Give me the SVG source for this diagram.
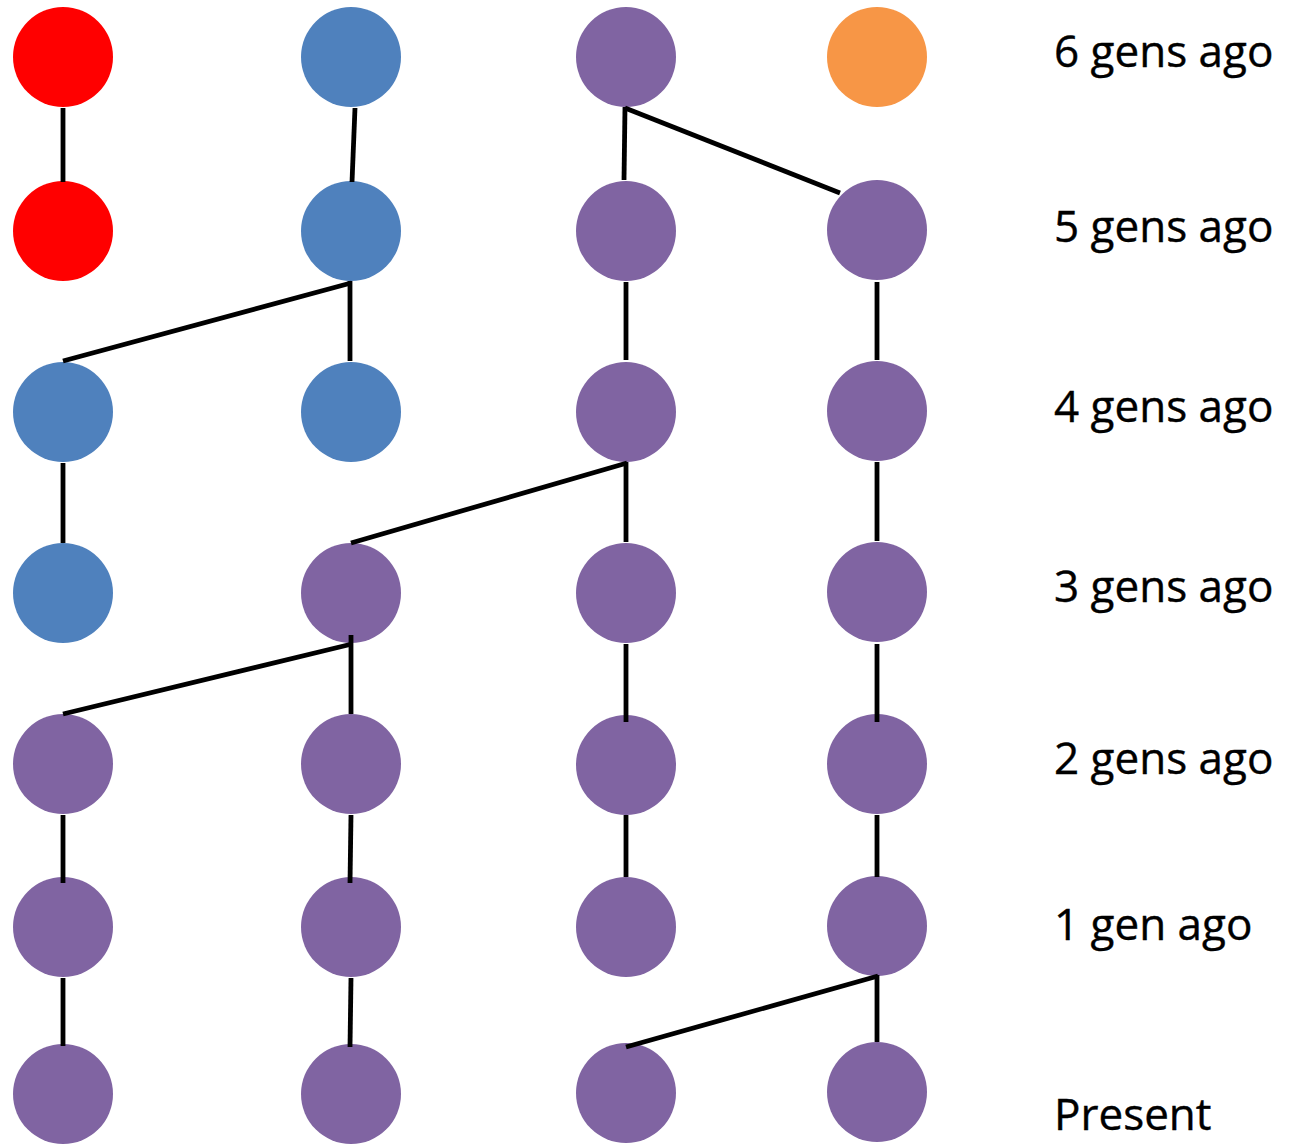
<svg xmlns="http://www.w3.org/2000/svg" width="1302" height="1146" viewBox="0 0 1302 1146">
<style>
.red{fill:#FF0000}.blue{fill:#4F81BD}.pur{fill:#8064A2}.org{fill:#F79646}
.lbl{font-family:"Open Sans","Liberation Sans",sans-serif;font-size:44px;fill:#000;stroke:#000;stroke-width:0.4}
#connectors line{stroke:#000;stroke-width:4.8;fill:none}
</style>
<rect width="1302" height="1146" fill="#fff"/>
<g id="nodes">
<g id="n0_0"><circle class="red" cx="63" cy="57" r="50"/></g>
<g id="n0_1"><circle class="blue" cx="351" cy="57" r="50"/></g>
<g id="n0_2"><circle class="pur" cx="626" cy="57" r="50"/></g>
<g id="n0_3"><circle class="org" cx="877" cy="57" r="50"/></g>
<g id="n1_0"><circle class="red" cx="63" cy="231" r="50"/></g>
<g id="n1_1"><circle class="blue" cx="351" cy="231" r="50"/></g>
<g id="n1_2"><circle class="pur" cx="626" cy="231" r="50"/></g>
<g id="n1_3"><circle class="pur" cx="877" cy="230" r="50"/></g>
<g id="n2_0"><circle class="blue" cx="63" cy="412" r="50"/></g>
<g id="n2_1"><circle class="blue" cx="351" cy="412" r="50"/></g>
<g id="n2_2"><circle class="pur" cx="626" cy="412" r="50"/></g>
<g id="n2_3"><circle class="pur" cx="877" cy="411" r="50"/></g>
<g id="n3_0"><circle class="blue" cx="63" cy="593" r="50"/></g>
<g id="n3_1"><circle class="pur" cx="351" cy="593" r="50"/></g>
<g id="n3_2"><circle class="pur" cx="626" cy="593" r="50"/></g>
<g id="n3_3"><circle class="pur" cx="877" cy="592" r="50"/></g>
<g id="n4_0"><circle class="pur" cx="63" cy="764" r="50"/></g>
<g id="n4_1"><circle class="pur" cx="351" cy="764" r="50"/></g>
<g id="n4_2"><circle class="pur" cx="626" cy="765" r="50"/></g>
<g id="n4_3"><circle class="pur" cx="877" cy="764" r="50"/></g>
<g id="n5_0"><circle class="pur" cx="63" cy="927" r="50"/></g>
<g id="n5_1"><circle class="pur" cx="351" cy="927" r="50"/></g>
<g id="n5_2"><circle class="pur" cx="626" cy="927" r="50"/></g>
<g id="n5_3"><circle class="pur" cx="877" cy="926" r="50"/></g>
<g id="n6_0"><circle class="pur" cx="63" cy="1094" r="50"/></g>
<g id="n6_1"><circle class="pur" cx="351" cy="1094" r="50"/></g>
<g id="n6_2"><circle class="pur" cx="626" cy="1093" r="50"/></g>
<g id="n6_3"><circle class="pur" cx="877" cy="1092" r="50"/></g>
</g>
<g id="connectors">
<line x1="63" y1="108" x2="63" y2="182"/>
<line x1="355" y1="108" x2="352" y2="182"/>
<line x1="625" y1="107" x2="624" y2="180"/>
<line x1="625" y1="108" x2="840" y2="193"/>
<line x1="350" y1="281" x2="350" y2="361"/>
<line x1="351" y1="283" x2="63" y2="361"/>
<line x1="626" y1="282" x2="626" y2="360"/>
<line x1="877" y1="282" x2="877" y2="360"/>
<line x1="63" y1="463" x2="63" y2="543"/>
<line x1="626" y1="462" x2="626" y2="542"/>
<line x1="627" y1="463" x2="351" y2="543"/>
<line x1="877" y1="462" x2="877" y2="541"/>
<line x1="351" y1="635" x2="351" y2="714"/>
<line x1="352" y1="644" x2="63" y2="714"/>
<line x1="626" y1="644" x2="626" y2="722"/>
<line x1="877" y1="644" x2="877" y2="722"/>
<line x1="63" y1="815" x2="63" y2="883"/>
<line x1="351" y1="815" x2="350" y2="883"/>
<line x1="626" y1="815" x2="626" y2="877"/>
<line x1="877" y1="815" x2="877" y2="877"/>
<line x1="63" y1="978" x2="63" y2="1046"/>
<line x1="351" y1="978" x2="350" y2="1047"/>
<line x1="877" y1="975" x2="877" y2="1042"/>
<line x1="878" y1="976" x2="626" y2="1047"/>
</g>
<g id="labels">
<text class="lbl" x="1054" y="67">6 gens ago</text>
<text class="lbl" x="1054" y="242">5 gens ago</text>
<text class="lbl" x="1054" y="422">4 gens ago</text>
<text class="lbl" x="1054" y="602">3 gens ago</text>
<text class="lbl" x="1054" y="774">2 gens ago</text>
<text class="lbl" x="1054" y="940">1 gen ago</text>
<text class="lbl" x="1054" y="1130">Present</text>
</g>
</svg>
